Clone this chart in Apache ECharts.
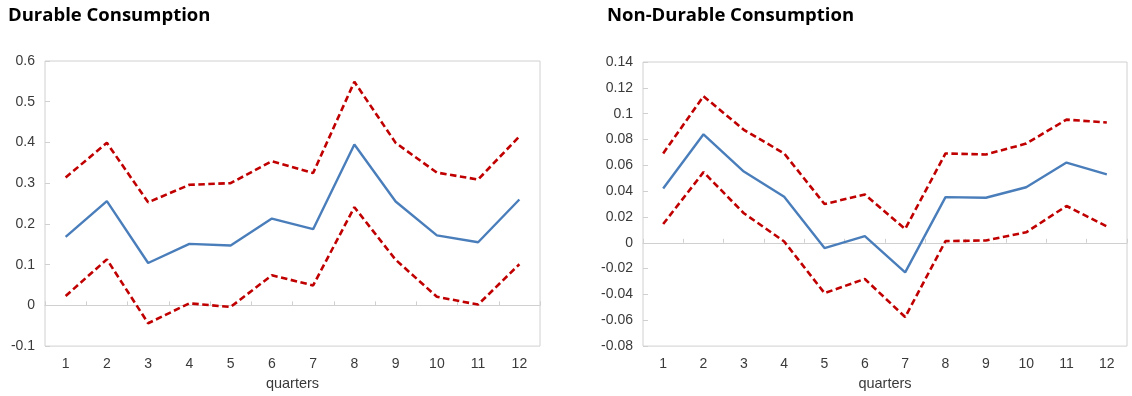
<!DOCTYPE html>
<html>
<head>
<meta charset="utf-8">
<script src="https://cdn.jsdelivr.net/npm/echarts@6/dist/echarts.min.js"></script>
<style>
  html, body { margin: 0; padding: 0; background: #fff; }
  #chart { width: 1132px; height: 396px; }
</style>
</head>
<body>
<div id="chart"></div>
<script>
// Impulse responses of consumption over 12 quarters with error bands
const quarters = ['1', '2', '3', '4', '5', '6', '7', '8', '9', '10', '11', '12'];

const durableMean  = [0.168, 0.256, 0.104, 0.151, 0.147, 0.213, 0.187, 0.395, 0.255, 0.172, 0.155, 0.260];
const durableUpper = [0.314, 0.399, 0.253, 0.296, 0.300, 0.354, 0.325, 0.549, 0.399, 0.326, 0.309, 0.415];
const durableLower = [0.023, 0.113, -0.044, 0.005, -0.004, 0.074, 0.049, 0.241, 0.112, 0.021, 0.002, 0.101];

const nonDurableMean  = [0.042, 0.084, 0.0552, 0.0356, -0.0041, 0.0051, -0.0229, 0.0354, 0.0349, 0.043, 0.0621, 0.053];
const nonDurableUpper = [0.0692, 0.1135, 0.0875, 0.0692, 0.030, 0.0374, 0.0107, 0.0692, 0.0684, 0.0768, 0.0954, 0.0931];
const nonDurableLower = [0.0145, 0.0547, 0.0229, 0.001, -0.039, -0.028, -0.0575, 0.0013, 0.0018, 0.0081, 0.0285, 0.0127];

const BLUE = '#4a7ebb';
const RED = '#c00000';
const FRAME = '#d0d0d0';
const AXIS_FONT = { fontFamily: 'Liberation Sans, Arial, sans-serif', fontSize: 14, color: '#3a3a3a' };
const TITLE_FONT = { fontFamily: 'Open Sans, sans-serif', fontWeight: 'bold', fontSize: 18.5, color: '#000' };

function xAxesFor(gridIndex) {
  return [
    {
      // category labels along the bottom of the plot area
      type: 'category', gridIndex, data: quarters, boundaryGap: true,
      position: 'bottom',
      axisLine: { show: false, onZero: false },
      axisTick: { show: false },
      axisLabel: Object.assign({ margin: 11 }, AXIS_FONT),
      name: 'quarters', nameLocation: 'middle', nameGap: 27,
      nameTextStyle: Object.assign({}, AXIS_FONT, { fontSize: 14.5 })
    },
    {
      // zero line with category separators
      type: 'category', gridIndex, data: quarters, boundaryGap: true,
      position: 'bottom',
      axisLine: { show: true, onZero: true, lineStyle: { color: FRAME, width: 1 } },
      axisTick: { show: true, inside: true, length: 4, lineStyle: { color: FRAME } },
      axisLabel: { show: false }
    }
  ];
}

function yAxisFor(gridIndex, min, max, interval, fmt) {
  return {
    type: 'value', gridIndex, min, max, interval,
    axisLine: { show: false },
    axisTick: { show: true, inside: true, length: 5, lineStyle: { color: FRAME } },
    splitLine: { show: false },
    axisLabel: Object.assign({ margin: 10, formatter: fmt }, AXIS_FONT)
  };
}

function lineSeries(data, xAxisIndex, yAxisIndex, color, dashed) {
  return {
    type: 'line', data, xAxisIndex, yAxisIndex,
    symbol: 'none', smooth: false, silent: true,
    lineStyle: dashed
      ? { color, width: 2.6, type: [6.5, 3.5] }
      : { color, width: 2.4, type: 'solid' }
  };
}

const fmt = v => {
  const r = Math.round(v * 100) / 100;
  return r === 0 ? '0' : String(r);
};

const option = {
  animation: false,
  backgroundColor: '#fff',
  title: [
    { text: 'Durable Consumption', left: 3, top: 1, textStyle: TITLE_FONT },
    { text: 'Non-Durable Consumption', left: 602, top: 1, textStyle: TITLE_FONT }
  ],
  grid: [
    { left: 45, top: 61, width: 495, height: 287, show: true, borderColor: FRAME, borderWidth: 1, backgroundColor: '#fff' },
    { left: 643, top: 62, width: 484, height: 287, show: true, borderColor: FRAME, borderWidth: 1, backgroundColor: '#fff' }
  ],
  xAxis: [...xAxesFor(0), ...xAxesFor(1)],
  yAxis: [
    yAxisFor(0, -0.1, 0.6, 0.1, fmt),
    yAxisFor(1, -0.08, 0.14, 0.02, fmt)
  ],
  series: [
    lineSeries(durableUpper, 0, 0, RED, true),
    lineSeries(durableLower, 0, 0, RED, true),
    lineSeries(durableMean, 0, 0, BLUE, false),
    lineSeries(nonDurableUpper, 2, 1, RED, true),
    lineSeries(nonDurableLower, 2, 1, RED, true),
    lineSeries(nonDurableMean, 2, 1, BLUE, false)
  ]
};

const chart = echarts.init(document.getElementById('chart'), null, { renderer: 'canvas' });
chart.setOption(option);
</script>
</body>
</html>
